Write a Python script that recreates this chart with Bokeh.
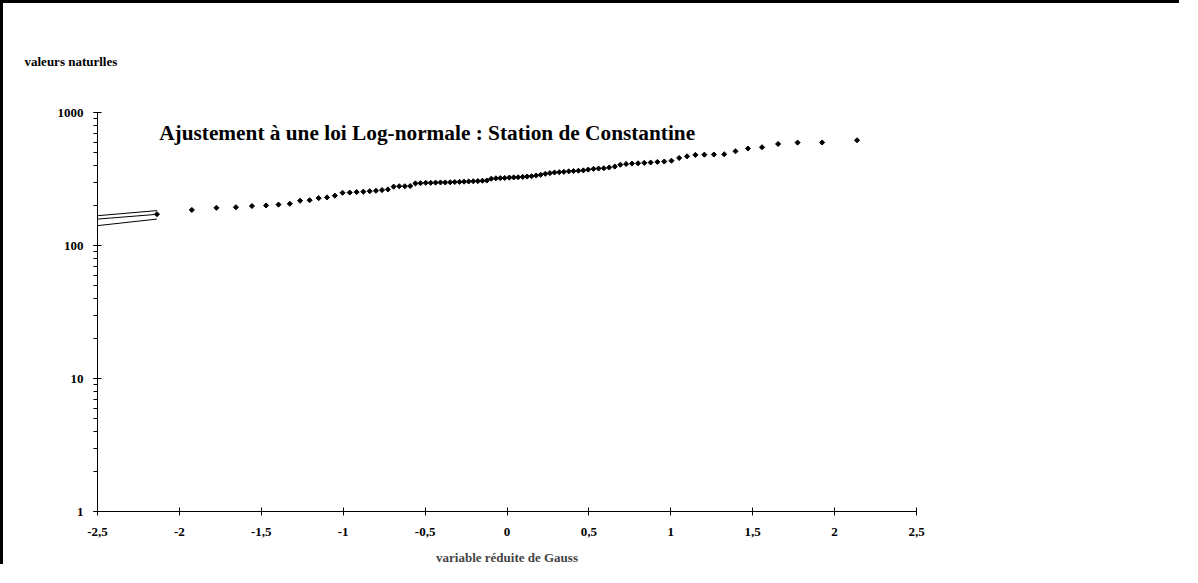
from bokeh.plotting import figure
from bokeh.models import FixedTicker, Label, Title
from bokeh.embed import file_html
from bokeh.resources import INLINE

gauss_x = [
    -2.137, -1.924, -1.774, -1.655, -1.557, -1.471, -1.395, -1.326, -1.263, -1.205,
    -1.150, -1.099, -1.051, -1.004, -0.960, -0.918, -0.877, -0.838, -0.800, -0.763,
    -0.727, -0.692, -0.658, -0.624, -0.591, -0.559, -0.528, -0.496, -0.466, -0.436,
    -0.406, -0.377, -0.347, -0.319, -0.290, -0.262, -0.234, -0.206, -0.178, -0.150,
    -0.123, -0.096, -0.068, -0.041, -0.014,
    0.014, 0.041, 0.068, 0.096, 0.123, 0.150, 0.178, 0.206, 0.234, 0.262,
    0.290, 0.319, 0.347, 0.377, 0.406, 0.436, 0.466, 0.496, 0.528, 0.559,
    0.591, 0.624, 0.658, 0.692, 0.727, 0.763, 0.800, 0.838, 0.877, 0.918,
    0.960, 1.004, 1.051, 1.099, 1.150, 1.205, 1.263, 1.326, 1.395, 1.471,
    1.557, 1.655, 1.774, 1.924, 2.137,
]

# Natural values (sorted)
valeurs = [
    172, 185, 192, 194, 198, 200, 203, 206, 217, 219,
    227, 230, 237, 249, 250, 252, 254, 256, 258, 261,
    264, 277, 279, 279, 280, 293, 294, 296, 296, 297,
    298, 298, 299, 300, 301, 302, 303, 304, 305, 307,
    308, 318, 320, 321, 322, 324, 325, 326, 328, 330,
    332, 336, 340, 346, 350, 354, 356, 358, 361, 363,
    365, 367, 372, 377, 379, 381, 386, 392, 405, 410,
    413, 415, 418, 421, 425, 428, 434, 455, 468, 480,
    482, 483, 485, 511, 536, 548, 580, 594, 595, 618,
]

# Fitted line and confidence bounds (only the short visible piece)
line_x = [-2.5, -2.137]
line_upper = [167.5, 183.0]
line_mid = [158.0, 171.5]
line_lower = [141.0, 158.0]

x_ticks = [-2.5, -2.0, -1.5, -1.0, -0.5, 0.0, 0.5, 1.0, 1.5, 2.0, 2.5]
x_tick_labels = ["-2,5", "-2", "-1,5", "-1", "-0,5", "0", "0,5", "1", "1,5", "2", "2,5"]
y_ticks = [1, 10, 100, 1000]
y_tick_labels = ["1", "10", "100", "1000"]

title_text = "Ajustement à une loi Log-normale : Station de Constantine"
x_label = "variable réduite de Gauss"
y_label = "valeurs naturlles"

FONT = "Liberation Serif"

p = figure(
    width=1179, height=564,
    x_range=(-2.5, 2.5), y_range=(1, 1000),
    y_axis_type="log",
    output_backend="svg", toolbar_location=None,
    min_border_left=94, min_border_right=266,
    min_border_top=109, min_border_bottom=55,
)
p.styles = {"border-left": "3px solid black", "border-top": "3px solid black"}
p.outline_line_color = None
p.grid.visible = False
p.background_fill_color = "white"
p.border_fill_color = "white"

# x axis
xa = p.xaxis[0]
xa.ticker = FixedTicker(ticks=x_ticks, minor_ticks=[])
xa.major_label_overrides = dict(zip(x_ticks, x_tick_labels))
xa.axis_label = x_label
xa.axis_label_text_font = FONT
xa.axis_label_text_font_style = "bold"
xa.axis_label_text_font_size = "13px"
xa.axis_label_standoff = 11
xa.major_label_standoff = 12
xa.major_tick_in = 4
xa.major_tick_out = 4
xa.minor_tick_line_color = None

# y axis
ya = p.yaxis[0]
ya.major_label_overrides = dict(zip(y_ticks, y_tick_labels))
ya.major_label_standoff = 10
ya.major_tick_in = 4
ya.major_tick_out = 4
ya.minor_tick_in = 0
ya.minor_tick_out = 4

for ax in (xa, ya):
    ax.axis_line_color = "black"
    ax.major_tick_line_color = "black"
    ax.major_label_text_font = FONT
    ax.major_label_text_font_style = "bold"
    ax.major_label_text_font_size = "13px"
    ax.major_label_text_color = "black"
ya.minor_tick_line_color = "black"

for ys in (line_upper, line_mid, line_lower):
    p.line(line_x, ys, line_color="black", line_width=1)

p.scatter(gauss_x, valeurs, marker="square", angle=0.785398, size=3.6, color="black")

p.add_layout(Label(
    x=-2.1233, y=706, text=title_text,
    text_font=FONT, text_font_style="bold", text_font_size="21.3px",
    text_color="black", text_align="left", text_baseline="middle",
))

p.add_layout(Title(
    text=y_label, align="left", offset=-73, standoff=87,
    text_font=FONT, text_font_style="bold", text_font_size="13px",
    text_color="black",
), "above")

open("out.html", "w").write(file_html(p, INLINE))
